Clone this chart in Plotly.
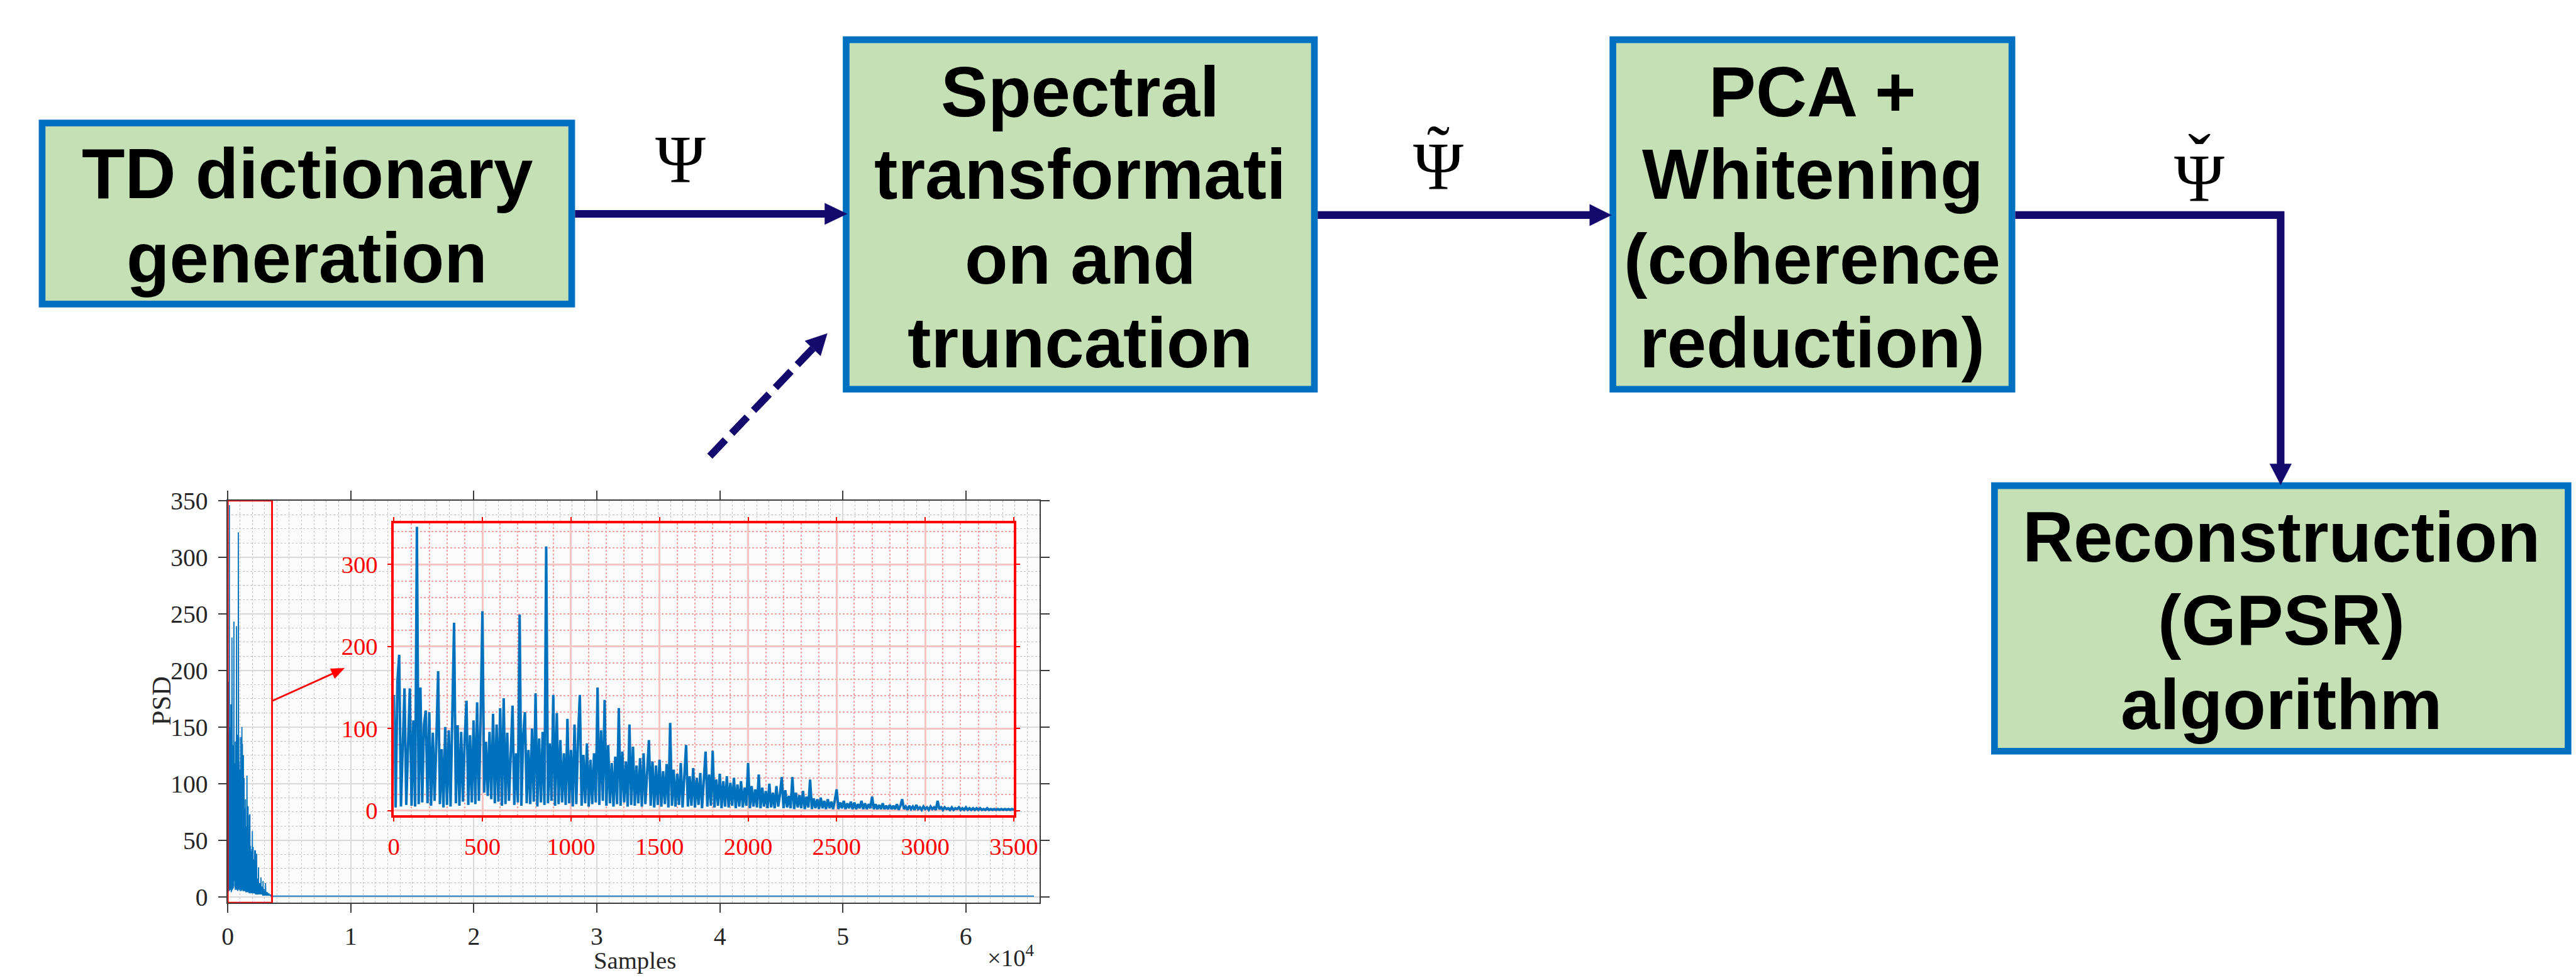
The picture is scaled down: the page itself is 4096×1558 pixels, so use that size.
import plotly.graph_objects as go

# Canvas layout is designed on a 4229 x 1609 grid and scaled to the output size
W_REF, H_REF = 4229, 1609
SCALE = 0.968
FIG_W, FIG_H = 4096, 1558


def px(x):
    return x / W_REF


def py(y):
    return 1 - y / H_REF


def fs(v):
    return v * SCALE


# ---------------- data ----------------
# PSD of the truncated spectrum (one value every 10 samples, 0 .. 3500)
psd_samples = list(range(0, 3501, 10))
psd_values = [
    141, 4, 158, 190, 5, 80, 149, 7, 92, 149,
    6, 110, 5, 346, 8, 150, 10, 105, 122, 9,
    120, 6, 95, 12, 88, 170, 8, 75, 4, 102,
    7, 98, 5, 108, 229, 9, 104, 6, 96, 11,
    88, 134, 7, 92, 10, 110, 8, 132, 12, 115,
    243, 22, 84, 18, 96, 14, 118, 9, 105, 11,
    125, 6, 137, 8, 95, 12, 80, 128, 7, 70,
    10, 239, 6, 92, 120, 9, 74, 8, 100, 11,
    143, 5, 88, 10, 96, 7, 322, 9, 82, 12,
    141, 6, 119, 8, 86, 10, 70, 7, 112, 9,
    74, 5, 105, 8, 90, 141, 6, 68, 9, 82,
    5, 62, 8, 70, 10, 150, 7, 98, 12, 135,
    6, 80, 9, 58, 5, 66, 8, 125, 6, 72,
    10, 60, 5, 105, 7, 78, 6, 55, 9, 64,
    5, 70, 8, 52, 86, 6, 60, 4, 55, 7,
    62, 5, 48, 8, 57, 4, 107, 6, 50, 5,
    45, 7, 58, 4, 48, 80, 5, 42, 6, 52,
    4, 40, 7, 46, 3, 38, 72, 5, 44, 6,
    73, 4, 38, 6, 45, 3, 36, 5, 42, 4,
    34, 6, 40, 3, 32, 5, 36, 4, 28, 6,
    58, 3, 30, 5, 26, 4, 44, 3, 28, 5,
    24, 3, 33, 4, 22, 3, 30, 5, 20, 41,
    3, 25, 4, 18, 3, 41, 2, 22, 4, 19,
    3, 24, 2, 17, 4, 38, 2, 15, 3, 14,
    2, 16, 3, 12, 2, 14, 3, 11, 2, 13,
    26, 2, 10, 3, 12, 2, 9, 3, 11, 2,
    10, 2, 8, 3, 12, 2, 9, 2, 8, 3,
    17, 2, 8, 2, 7, 2, 9, 2, 6, 2,
    7, 2, 6, 2, 8, 1, 6, 14, 2, 5,
    1, 6, 2, 5, 1, 7, 2, 4, 1, 5,
    2, 4, 1, 5, 2, 4, 1, 12, 2, 4,
    1, 4, 2, 3, 1, 4, 1, 3, 2, 4,
    1, 3, 1, 4, 1, 3, 1, 3, 1, 3,
    1, 3, 1, 2, 1, 3, 1, 2, 1, 2,
    1, 2, 1, 2, 1, 2, 1, 2, 1, 2,
    1,
]
# flat remainder of the full spectrum
tail_samples = [3510, 65536]
tail_values = [0.5, 0.5]

main_xticks = [0, 10000, 20000, 30000, 40000, 50000, 60000]
main_xticktext = ["0", "1", "2", "3", "4", "5", "6"]

# processing chain
box_specs = [
    # (outer left, outer top, outer right, outer bottom, text lines, line baselines)
    (54, 179, 945, 494, ["TD dictionary", "generation"], [310, 451]),
    (1390, 39, 2179, 637, ["Spectral", "transformati", "on and", "truncation"], [172, 311, 453, 594]),
    (2664, 39, 3338, 637, ["PCA +", "Whitening", "(coherence", "reduction)"], [172, 311, 453, 594]),
    (3298, 788, 4262, 1245, ["Reconstruction", "(GPSR)", "algorithm"], [920, 1060, 1201]),
]

# link symbols: (centre x, baseline) and accents (glyph, centre x, centre y)
psi_positions = [(1120, 283), (2379, 295), (3644, 315)]
psi_accents = [("˜", 2379, 228), ("ˇ", 3644, 243)]

# ---------------- styling constants ----------------
BOX_FILL = "#C5E0B4"
BOX_LINE = "#0070C0"
ARROW = "#140A6E"
BLUE = "#0072BD"
RED = "#FF0000"
SERIF = "Liberation Serif, Times New Roman, serif"
SANS = "Liberation Sans, Arial, sans-serif"

fig = go.Figure()

fig.add_trace(go.Scatter(
    x=psd_samples + tail_samples, y=psd_values + tail_values,
    mode="lines", line=dict(color=BLUE, width=1.8),
    xaxis="x", yaxis="y", hoverinfo="skip",
))
fig.add_trace(go.Scatter(
    x=psd_samples, y=psd_values,
    mode="lines", line=dict(color=BLUE, width=4),
    xaxis="x2", yaxis="y2", hoverinfo="skip",
))

axis_gray = "#3C3C3C"
main_font = dict(family=SERIF, size=fs(41), color="#262626")
inset_font = dict(family=SERIF, size=fs(40), color=RED)

fig.update_layout(
    width=FIG_W, height=FIG_H,
    margin=dict(l=0, r=0, t=0, b=0),
    paper_bgcolor="white", plot_bgcolor="#FBFBFB",
    showlegend=False,
    xaxis=dict(
        domain=[px(368), px(1717)], range=[0, 66000], anchor="y",
        tickmode="array", tickvals=main_xticks, ticktext=main_xticktext,
        ticks="outside", ticklen=fs(14), tickwidth=2, tickcolor=axis_gray,
        showline=True, linecolor=axis_gray, linewidth=2, mirror="ticks",
        showgrid=True, gridcolor="#DADADA", gridwidth=1.5, zeroline=False,
        minor=dict(dtick=1000, tick0=0, showgrid=True, gridcolor="#C4C4C4",
                   griddash="dot", gridwidth=1, ticks=""),
        tickfont=main_font, ticklabelstandoff=4,
    ),
    yaxis=dict(
        domain=[py(1494), py(818.5)], range=[-5.3, 350], anchor="x",
        tickmode="linear", tick0=0, dtick=50,
        ticks="outside", ticklen=fs(14), tickwidth=2, tickcolor=axis_gray,
        showline=True, linecolor=axis_gray, linewidth=2, mirror="ticks",
        showgrid=True, gridcolor="#DADADA", gridwidth=1.5, zeroline=False,
        minor=dict(dtick=12.5, tick0=0, showgrid=True, gridcolor="#C4C4C4",
                   griddash="dot", gridwidth=1, ticks=""),
        tickfont=main_font, ticklabelstandoff=8,
    ),
    xaxis2=dict(
        domain=[px(644), px(1674)], range=[0, 3500], anchor="y2",
        tickmode="linear", tick0=0, dtick=500,
        ticks="outside", ticklen=fs(6), tickwidth=2, tickcolor=RED,
        showline=True, linecolor=RED, linewidth=4, mirror="ticks",
        showgrid=True, gridcolor="#F7C4C4", gridwidth=3, zeroline=False,
        minor=dict(dtick=100, tick0=0, showgrid=True, gridcolor="#F2A2A2",
                   griddash="dot", gridwidth=1.5, ticks=""),
        tickfont=inset_font, ticklabelstandoff=7,
    ),
    yaxis2=dict(
        domain=[py(1347), py(857)], range=[-5.5, 350], anchor="x2",
        tickmode="linear", tick0=0, dtick=100,
        ticks="outside", ticklen=fs(6), tickwidth=2, tickcolor=RED,
        showline=True, linecolor=RED, linewidth=4, mirror="ticks",
        showgrid=True, gridcolor="#F7C4C4", gridwidth=3, zeroline=False,
        minor=dict(dtick=20, tick0=0, showgrid=True, gridcolor="#F2A2A2",
                   griddash="dot", gridwidth=1.5, ticks=""),
        tickfont=inset_font, ticklabelstandoff=8,
    ),
)

shapes = []
annotations = []

# ---- process boxes ----
BORDER = 11
for x0, y0, x1, y1, lines, baselines in box_specs:
    h = BORDER / 2
    shapes.append(dict(
        type="rect", xref="paper", yref="paper",
        x0=px(x0 + h), x1=px(x1 - h), y0=py(y1 - h), y1=py(y0 + h),
        fillcolor=BOX_FILL, line=dict(color=BOX_LINE, width=fs(BORDER)),
        layer="above",
    ))
    cx = (x0 + x1) / 2
    if x1 > W_REF:
        cx = 3780
    size = 116
    for txt, base in zip(lines, baselines):
        annotations.append(dict(
            xref="paper", yref="paper", x=px(cx), y=py(base - 0.3465 * size),
            xanchor="center", yanchor="middle", showarrow=False, text=txt,
            font=dict(family=SANS, size=fs(size), color="black", weight="bold"),
        ))


def tri_path(tip, base, half):
    """Filled arrowhead: tip point, base-centre point, half base width (ref px)."""
    tx, ty = tip
    bx, by = base
    dx, dy = tx - bx, ty - by
    ln = (dx * dx + dy * dy) ** 0.5
    nx, ny = -dy / ln, dx / ln
    p1 = (bx + nx * half, by + ny * half)
    p2 = (bx - nx * half, by - ny * half)
    return (f"M {px(tx)},{py(ty)} L {px(p1[0])},{py(p1[1])} "
            f"L {px(p2[0])},{py(p2[1])} Z")


def seg(x0, y0, x1, y1, color, width, dash="solid"):
    return dict(type="line", xref="paper", yref="paper",
                x0=px(x0), y0=py(y0), x1=px(x1), y1=py(y1),
                line=dict(color=color, width=fs(width), dash=dash), layer="above")


def head(tip, base, half, color):
    return dict(type="path", xref="paper", yref="paper", path=tri_path(tip, base, half),
                fillcolor=color, line=dict(color=color, width=0.5), layer="above")


# ---- flow arrows ----
LW = 12.5
shapes.append(seg(945, 337, 1362, 337, ARROW, LW))
shapes.append(head((1397, 337), (1360, 337), 18, ARROW))

shapes.append(seg(2179, 339, 2633, 339, ARROW, LW))
shapes.append(head((2667, 339), (2631, 339), 18, ARROW))

shapes.append(dict(
    type="path", xref="paper", yref="paper",
    path=f"M {px(3338)},{py(339)} L {px(3779)},{py(339)} L {px(3779)},{py(759)}",
    line=dict(color=ARROW, width=fs(LW)), fillcolor="rgba(0,0,0,0)", layer="above",
))
shapes.append(head((3779, 792), (3779, 757), 18, ARROW))

# dashed pointer from the PSD figure to the spectral block
shapes.append(seg(1169, 744, 1342, 561, ARROW, 12, dash=f"{fs(37):.1f}px,{fs(15):.1f}px"))
shapes.append(head((1364, 538), (1340, 563), 18, ARROW))

# ---- zoom marker on the full PSD and arrow to the inset ----
shapes.append(dict(
    type="rect", xref="x", yref="y", x0=0, x1=3600, y0=-5.3, y1=350,
    line=dict(color=RED, width=fs(3)), fillcolor="rgba(0,0,0,0)", layer="above",
))
shapes.append(seg(442, 1155, 545, 1108, RED, 3))
shapes.append(head((562, 1100), (542, 1109.2), 9, RED))

# ---- symbols on the links ----
PSI = 112
for cx, base in psi_positions:
    annotations.append(dict(
        xref="paper", yref="paper", x=px(cx), y=py(base - 0.3375 * PSI),
        xanchor="center", yanchor="middle", showarrow=False, text="Ψ",
        font=dict(family=SERIF, size=fs(PSI), color="black"),
    ))
for glyph, cx, cy in psi_accents:
    annotations.append(dict(
        xref="paper", yref="paper", x=px(cx), y=py(cy),
        xanchor="center", yanchor="middle", showarrow=False, text=glyph,
        font=dict(family=SERIF, size=fs(PSI), color="black"),
    ))

# ---- axis labels of the PSD figure ----
annotations.append(dict(
    xref="paper", yref="paper", x=px(257), y=py(1155),
    xanchor="center", yanchor="middle", showarrow=False, text="PSD", textangle=-90,
    font=dict(family=SERIF, size=fs(44), color="#262626"),
))
annotations.append(dict(
    xref="paper", yref="paper", x=px(1044), y=py(1591),
    xanchor="center", yanchor="middle", showarrow=False, text="Samples",
    font=dict(family=SERIF, size=fs(40), color="#262626"),
))
annotations.append(dict(
    xref="paper", yref="paper", x=px(1628), y=py(1584),
    xanchor="left", yanchor="middle", showarrow=False, text="×10<sup>4</sup>",
    font=dict(family=SERIF, size=fs(40), color="#262626"),
))

fig.update_layout(shapes=shapes, annotations=annotations)

fig.write_html("out.html")
